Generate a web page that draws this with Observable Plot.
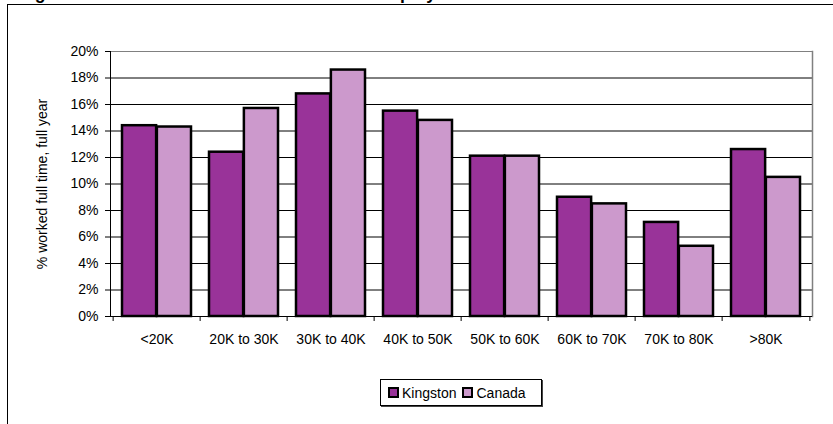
<!DOCTYPE html>
<html>
<head>
<meta charset="utf-8">
<script src="https://cdn.jsdelivr.net/npm/d3@7"></script>
<script src="https://cdn.jsdelivr.net/npm/@observablehq/plot@0.6"></script>
<style>
  html, body { margin: 0; padding: 0; background: #fff; }
  body { width: 833px; height: 424px; position: relative; overflow: hidden; font-family: "Liberation Sans", Arial, sans-serif; }
  #frame { position: absolute; left: 7px; top: 4px; width: 900px; height: 500px; border-left: 1.5px solid #000; border-top: 1.5px solid #000; }
  #title { position: absolute; left: 19px; top: -17px; font-size: 17.6px; line-height: 20px; font-weight: bold; white-space: nowrap; color: #000; }
  #chart { position: absolute; left: 0; top: 0; }
  #legend { position: absolute; left: 380px; top: 379px; width: 160px; height: 25px; border: 1px solid #000; box-shadow: 1px 1px 0 #444; background: #fff; display: flex; align-items: center; font-size: 14px; }
  .item { display: flex; align-items: center; margin-left: 7px; }
  .item + .item { margin-left: 6px; }
  .sw { width: 7px; height: 7px; border: 2px solid #000; margin-right: 3px; }
</style>
</head>
<body>
<div id="frame"></div>
<div id="title"></div>
<div id="chart"></div>
<div id="legend"></div>
<script>
const titleText = "Figure 4: Income Distribution of Full-Time Employees";
const categories = ["<20K", "20K to 30K", "30K to 40K", "40K to 50K", "50K to 60K", "60K to 70K", "70K to 80K", ">80K"];
const kingston = [14.4, 12.4, 16.8, 15.5, 12.1, 9.0, 7.1, 12.6];
const canada = [14.3, 15.7, 18.6, 14.8, 12.1, 8.5, 5.3, 10.5];
const seriesNames = ["Kingston", "Canada"];
const seriesColors = ["#993399", "#CC99CC"];
const yTicks = [0, 2, 4, 6, 8, 10, 12, 14, 16, 18, 20];
const yLabel = "% worked full time, full year";

document.getElementById("title").textContent = titleText;

const kRows = categories.map((c, i) => ({cat: c, value: kingston[i]}));
const cRows = categories.map((c, i) => ({cat: c, value: canada[i]}));

const W = 833, H = 424, mL = 110, mR = 21, mT = 51, mB = 108;
const step = (W - mL - mR) / categories.length;
const outer = 9;
const inner = step / 2;

const chart = Plot.plot({
  width: W, height: H,
  marginLeft: mL, marginRight: mR, marginTop: mT, marginBottom: mB,
  style: {fontFamily: '"Liberation Sans", Arial, sans-serif', fontSize: "14px", color: "#000", background: "transparent"},
  x: {domain: categories, padding: 0},
  y: {domain: [0, 20]},
  marks: [
    Plot.ruleY(yTicks.filter(d => d > 0 && d < 20), {stroke: "#000", strokeWidth: 1}),
    Plot.ruleY([20], {stroke: "#808080", strokeWidth: 1}),
    Plot.frame({anchor: "right", stroke: "#808080", strokeWidth: 1.5}),
    Plot.barY(kRows, {x: "cat", y: "value", fill: seriesColors[0], stroke: "#000", strokeWidth: 2.5, insetLeft: outer, insetRight: step / 2}),
    Plot.barY(cRows, {x: "cat", y: "value", fill: seriesColors[1], stroke: "#000", strokeWidth: 2.5, insetLeft: inner, insetRight: outer}),
    Plot.frame({anchor: "left", stroke: "#000", strokeWidth: 1}),
    Plot.ruleY([0], {stroke: "#000", strokeWidth: 1}),
    Plot.axisY({ticks: yTicks, tickFormat: d => d + "%", tickSize: 5, tickPadding: 7, label: yLabel, labelAnchor: "center", labelArrow: "none", labelOffset: 73}),
    Plot.axisX({tickSize: 0, tickPadding: 18, label: null}),
    Plot.ruleX(categories, {x: d => d, y1: 0, y2: 0, insetBottom: -5, dx: -step / 2, stroke: "#000"}),
    Plot.ruleX([categories[categories.length - 1]], {x: d => d, y1: 0, y2: 0, insetBottom: -5, dx: step / 2, stroke: "#000"})
  ]
});
document.getElementById("chart").appendChild(chart);

const legend = document.getElementById("legend");
seriesNames.forEach((name, i) => {
  const item = document.createElement("div");
  item.className = "item";
  const sw = document.createElement("div");
  sw.className = "sw";
  sw.style.background = seriesColors[i];
  const t = document.createElement("span");
  t.textContent = name;
  item.appendChild(sw);
  item.appendChild(t);
  legend.appendChild(item);
});
</script>
</body>
</html>
